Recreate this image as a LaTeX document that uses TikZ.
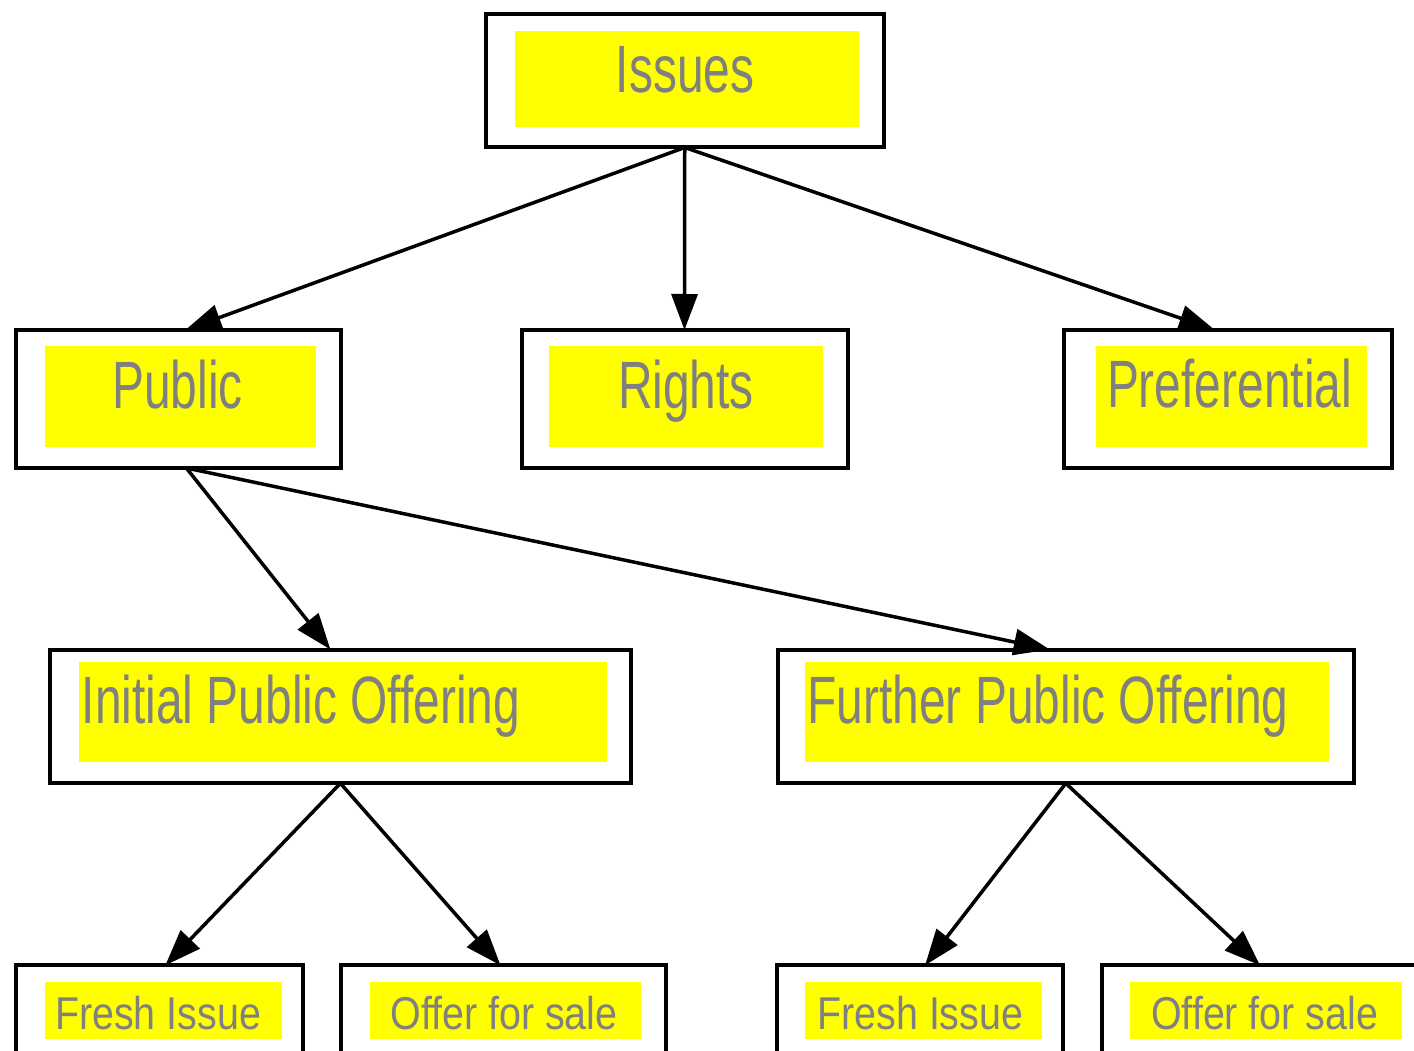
\documentclass[tikz,border=0pt]{standalone}
\usepackage{fontspec}
\usetikzlibrary{positioning,arrows.meta}
\newfontfamily\bigfont[FakeStretch=0.715]{Liberation Sans}
\newfontfamily\smallfont[FakeStretch=0.857]{Liberation Sans}
\definecolor{txtgray}{RGB}{128,128,128}
\definecolor{boxyellow}{RGB}{255,255,0}

\begin{document}
\begin{tikzpicture}[x=1pt,y=1pt]
    \tikzstyle{every node}=[inner sep=0,outer sep=0]
    \tikzstyle{outer}=[draw=black,line width=4pt,fill=white,rectangle,anchor=north west]
    \tikzstyle{ybox}=[fill=boxyellow,rectangle,anchor=north west]
    \tikzstyle{bigtext}=[text=txtgray,anchor=base,font=\bigfont\fontsize{67}{70}\selectfont]
    \tikzstyle{smalltext}=[text=txtgray,anchor=base,font=\smallfont\fontsize{46}{48}\selectfont]
    \tikzstyle{arr}=[line width=3.5pt,-{Triangle[length=36pt,width=26pt]}]

    \useasboundingbox (0,0) rectangle (1414,-1051);
    \clip (0,0) rectangle (1414,-1051);

    % top level
    \node[outer,minimum width=397.5,minimum height=133] (issues) at (486,-14.5) {};
    \node[ybox,minimum width=344,minimum height=96] (issues-y) at (515,-31) {};
    \node[bigtext] (issues-t) at (685,-93) {Issues};

    % second level
    \node[outer,minimum width=325.3,minimum height=138] (public) at (15.7,-330) {};
    \node[ybox,minimum width=271,minimum height=101] (public-y) at (45,-346) {};
    \node[bigtext] (public-t) at (177.5,-408) {Public};

    \node[outer,minimum width=326,minimum height=138] (rights) at (521.5,-330) {};
    \node[ybox,minimum width=274,minimum height=101] (rights-y) at (549,-346) {};
    \node[bigtext] (rights-t) at (686,-408) {Rights};

    \node[outer,minimum width=327.7,minimum height=138] (pref) at (1064,-330) {};
    \node[ybox,minimum width=271,minimum height=101] (pref-y) at (1096,-346) {};
    \node[bigtext] (pref-t) at (1229.5,-407.5) {Preferential};

    % third level
    \node[outer,minimum width=580.2,minimum height=133.8] (ipo) at (50.3,-649.5) {};
    \node[ybox,minimum width=528.3,minimum height=99.7] (ipo-y) at (79,-662) {};
    \node[bigtext] (ipo-t) at (301,-723.5) {Initial Public Offering};

    \node[outer,minimum width=576,minimum height=133.8] (fpo) at (777.8,-649.5) {};
    \node[ybox,minimum width=524.3,minimum height=99.7] (fpo-y) at (805,-662) {};
    \node[bigtext] (fpo-t) at (1048,-723.5) {Further Public Offering};

    % bottom level
    \node[outer,minimum width=286.7,minimum height=130] (fresh1) at (16,-965.3) {};
    \node[ybox,minimum width=237,minimum height=57] (fresh1-y) at (45,-982) {};
    \node[smalltext] (fresh1-t) at (158,-1029) {Fresh Issue};

    \node[outer,minimum width=325,minimum height=130] (offer1) at (341,-965.3) {};
    \node[ybox,minimum width=271,minimum height=57] (offer1-y) at (370,-982) {};
    \node[smalltext] (offer1-t) at (504,-1029) {Offer for sale};

    \node[outer,minimum width=285.5,minimum height=130] (fresh2) at (777.3,-965.3) {};
    \node[ybox,minimum width=236.7,minimum height=57] (fresh2-y) at (805,-982) {};
    \node[smalltext] (fresh2-t) at (920.3,-1029) {Fresh Issue};

    \node[outer,minimum width=330,minimum height=130] (offer2) at (1102,-965.3) {};
    \node[ybox,minimum width=271.7,minimum height=57] (offer2-y) at (1130,-982) {};
    \node[smalltext] (offer2-t) at (1264.7,-1029) {Offer for sale};

    % arrows
    \draw[arr] (issues.south) -- ([xshift=7]public.north);
    \draw[arr] (issues.south) -- (rights.north);
    \draw[arr] (issues.south) -- ([xshift=-13]pref.north);

    \draw[arr] ([xshift=8]public.south) -- ([xshift=-10]ipo.north);
    \draw[arr] ([xshift=8]public.south) -- ([xshift=-16]fpo.north);

    \draw[arr] (ipo.south) -- ([xshift=6]fresh1.north);
    \draw[arr] (ipo.south) -- ([xshift=-3]offer1.north);
    \draw[arr] (fpo.south) -- ([xshift=5]fresh2.north);
    \draw[arr] (fpo.south) -- ([xshift=-7]offer2.north);
\end{tikzpicture}
\end{document}
